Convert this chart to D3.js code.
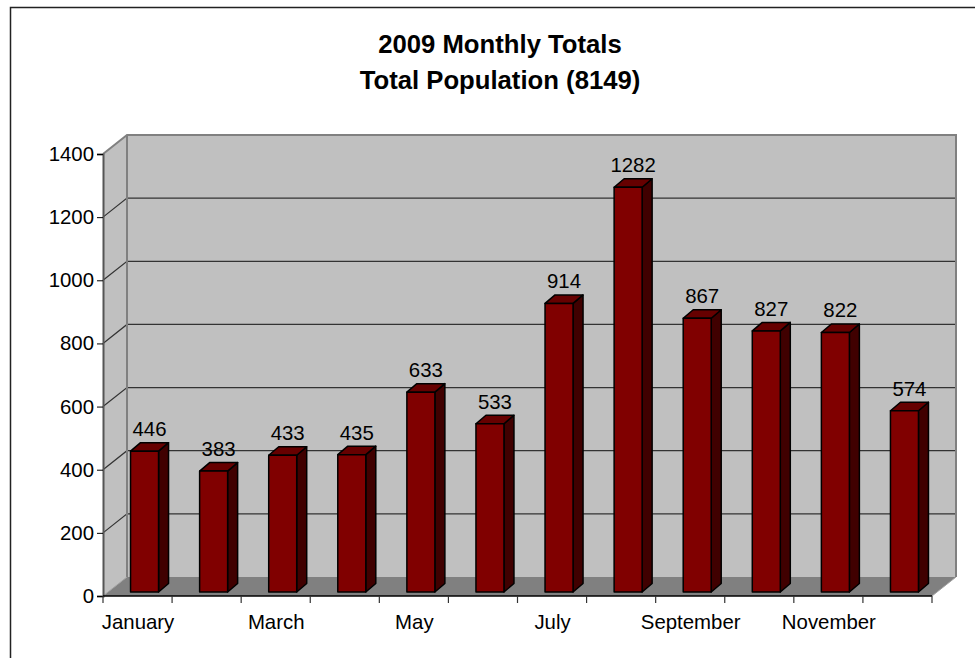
<!DOCTYPE html>
<html><head><meta charset="utf-8">
<script src="https://cdn.jsdelivr.net/npm/d3@7/dist/d3.min.js"></script>
<style>html,body{margin:0;padding:0;background:#fff}svg{display:block}text{font-family:"Liberation Sans",Arial,sans-serif;fill:#000}</style>
</head><body><svg id="c" width="975" height="658"></svg>
<script>
const months = ["January","February","March","April","May","June","July","August","September","October","November","December"];
const totals = [446,383,433,435,633,533,914,1282,867,827,822,574];
const yTicks = [0,200,400,600,800,1000,1200,1400];
const titleLines = ["2009 Monthly Totals","Total Population (8149)"];

const svg = d3.select("#c");
const frontL = 103, frontR = 932, y0 = 596, yTop = 154, depthX = 24, depthY = 19;
const x = d3.scaleBand().domain(months).range([frontL, frontR]);
const y = d3.scaleLinear().domain([0,1400]).range([y0, yTop]);

// outer frame
svg.append("path").attr("d","M10.5,658V7.5H975").attr("fill","none").attr("stroke","#222").attr("stroke-width",1.5);

// title
svg.append("g").selectAll("text").data(titleLines).join("text")
  .attr("x",500).attr("y",(d,i)=>53+i*35.5).attr("text-anchor","middle")
  .attr("font-size",25.7).attr("font-weight","bold").text(d=>d);

// walls and floor
const bx = frontL+depthX, bxR = frontR+depthX, by0 = y0-depthY, byT = yTop-depthY;
svg.append("path").attr("d",`M${frontL},${y0}V${yTop}L${bx},${byT}V${by0}Z`).attr("fill","#c0c0c0");
svg.append("rect").attr("x",bx).attr("y",byT).attr("width",bxR-bx).attr("height",by0-byT).attr("fill","#c0c0c0");
svg.append("path").attr("d",`M${frontL},${y0}L${bx},${by0}H${bxR}L${frontR},${y0}Z`).attr("fill","#808080");

// gridlines
const grid = svg.append("g");
grid.selectAll("path").data(yTicks.slice(1,-1)).join("path")
  .attr("d",d=>`M${frontL},${y(d)}L${bx},${y(d)-depthY}H${bxR}`)
  .attr("fill","none").attr("stroke","#333").attr("stroke-width",1.2);

// wall outline
svg.append("path").attr("d",`M${frontL},${yTop}L${bx},${byT}H${bxR}V${by0}M${bx},${byT}V${by0}`)
  .attr("fill","none").attr("stroke","#808080").attr("stroke-width",2);
svg.append("path").attr("d",`M${frontL},${y0}L${bx},${by0}M${frontR},${y0}L${bxR},${by0}`)
  .attr("fill","none").attr("stroke","#a0a0a0").attr("stroke-width",1);

// axes
const yAxis = d3.axisLeft(y).tickValues(yTicks).tickFormat(d3.format("d")).tickSize(6).tickPadding(3);
const gy = svg.append("g").attr("transform",`translate(${frontL},0)`).call(yAxis);
gy.select(".domain").attr("stroke","#555").attr("stroke-width",2);
gy.attr("font-family",null).attr("font-size",20.4);

const gx = svg.append("g").attr("transform",`translate(0,${y0})`);
gx.append("line").attr("x1",frontL).attr("x2",frontR).attr("stroke","#000").attr("stroke-width",1.5);
const edges = months.map(m=>x(m)).concat(frontR);
gx.selectAll(".edge").data(edges).join("line").attr("class","edge")
  .attr("x1",d=>d).attr("x2",d=>d).attr("y1",0).attr("y2",7).attr("stroke","#333").attr("stroke-width",1.2);
const shown = months.filter((m,i)=>i%2===0);
gx.selectAll(".lab").data(shown).join("text").attr("class","lab")
  .attr("x",d=>x(d)+x.bandwidth()/2+0.5).attr("y",32.5).attr("text-anchor","middle").attr("font-size",20.4).text(d=>d);

// bars
const barW = 28, sideX = 10, sideY = 8.5, planeX = 7, planeY = 4;
const bars = svg.append("g").selectAll("g").data(months.map((m,i)=>({m,v:totals[i]}))).join("g");
const L = d=>x(d.m)+x.bandwidth()/2+planeX-barW/2, T = d=>y(d.v)-planeY, B = ()=>y0-planeY;
const st = s=>s.attr("stroke","#000").attr("stroke-width",1.5).attr("stroke-linejoin","round");
bars.append("path").attr("d",d=>`M${L(d)+barW},${T(d)}l${sideX},${-sideY}V${B()-sideY}l${-sideX},${sideY}Z`).attr("fill","#400000").call(st);
bars.append("path").attr("d",d=>`M${L(d)},${T(d)}l${sideX},${-sideY}h${barW}l${-sideX},${sideY}Z`).attr("fill","#660000").call(st);
bars.append("rect").attr("x",L).attr("y",T).attr("width",barW).attr("height",d=>B()-T(d)).attr("fill","#800000").call(st);
bars.append("text").attr("x",d=>L(d)+barW/2+sideX/2).attr("y",d=>T(d)-sideY-6.5).attr("text-anchor","middle").attr("font-size",20.4).text(d=>d.v);
</script></body></html>
